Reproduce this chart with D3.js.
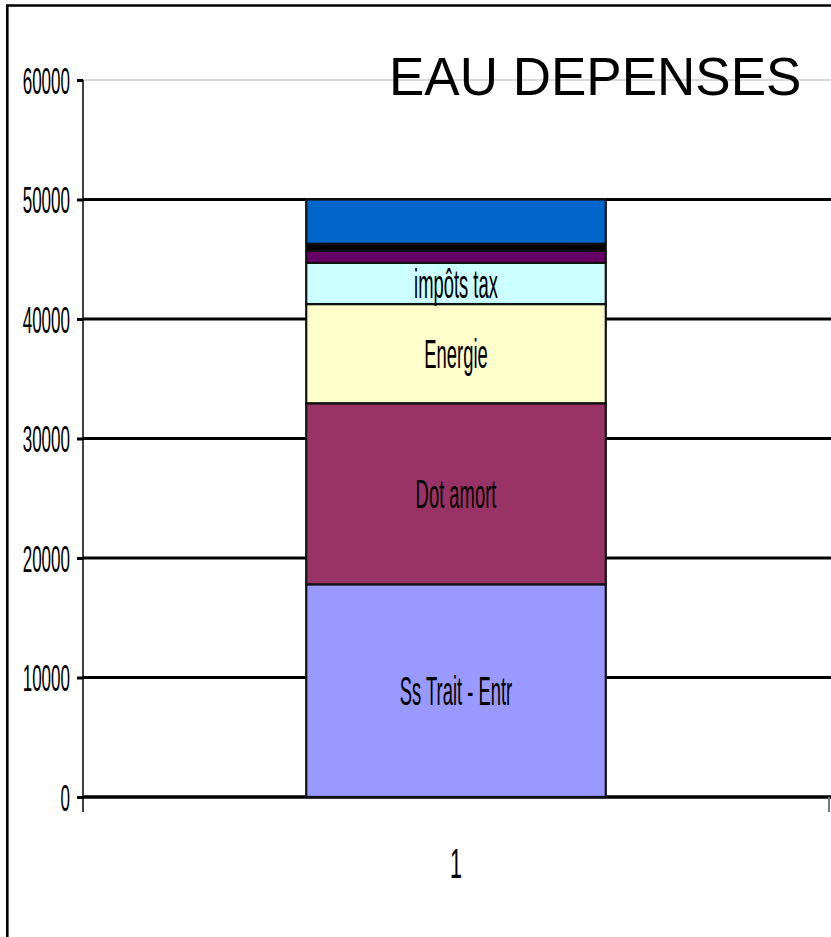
<!DOCTYPE html>
<html>
<head>
<meta charset="utf-8">
<script src="https://cdn.jsdelivr.net/npm/d3@7"></script>
<style>
  body { margin: 0; background: #fff; }
  text { font-family: "Liberation Sans", Arial, sans-serif; }
</style>
</head>
<body>
<div id="chart"></div>
<script>
// categories / series (bottom to top of the stack)
let categories = ["1"]
let seriesNames = ["Ss Trait - Entr", "Dot amort", "Energie", "impôts tax", "", "", ""]
let seriesValues = [17800, 15150, 8300, 3450, 1000, 600, 3700]
let seriesColors = ["#9999ff", "#993366", "#ffffcc", "#ccffff", "#660066", "#000000", "#0066cc"]
let yTicks = [0, 10000, 20000, 30000, 40000, 50000, 60000]
let title = "EAU DEPENSES"

let W = 831, H = 937
let plotLeft = 83, plotRight = 829, plotTop = 80, plotBottom = 797

let svg = d3.select("#chart")
  .append("svg")
  .attr("width", W)
  .attr("height", H)

svg.append("rect")
  .attr("width", W)
  .attr("height", H)
  .attr("fill", "#fff")

// outer frame (only top and left visible)
svg.append("path")
  .attr("d", `M7.3,${H} L7.3,5.5 L${W},5.5`)
  .attr("fill", "none")
  .attr("stroke", "#000")
  .attr("stroke-width", 2.6)

let y = d3.scaleLinear().domain([0, 60000]).range([plotBottom, plotTop])
let x = d3.scaleBand().domain(categories).range([plotLeft, plotRight]).padding(0.427)

// gridlines
svg.selectAll("line.grid")
  .data(yTicks)
  .enter()
  .append("line")
  .attr("class", "grid")
  .attr("x1", plotLeft)
  .attr("x2", plotRight + 2)
  .attr("y1", d => y(d))
  .attr("y2", d => y(d))
  .attr("stroke", d => d == 60000 ? "#b4b4b4" : "#000")
  .attr("stroke-width", d => d == 60000 ? 1 : (d == 0 ? 3.6 : 3))

// stacked data
let stackData = []
let acc = 0
seriesValues.forEach(function(v, i) {
  stackData.push({name: seriesNames[i], color: seriesColors[i], y0: acc, y1: acc + v})
  acc += v
})

let bar = svg.append("g")

bar.selectAll("rect")
  .data(stackData)
  .enter()
  .append("rect")
  .attr("x", x("1"))
  .attr("width", x.bandwidth())
  .attr("y", d => y(d.y1))
  .attr("height", d => y(d.y0) - y(d.y1))
  .attr("fill", d => d.color)
  .attr("stroke", "#111")
  .attr("stroke-width", 2.2)

// segment labels (condensed)
bar.selectAll("text")
  .data(stackData.filter(d => d.name != ""))
  .enter()
  .append("text")
  .attr("transform", d => `translate(${x("1") + x.bandwidth() / 2},${(y(d.y0) + y(d.y1)) / 2}) scale(0.46,1)`)
  .attr("dy", "0.36em")
  .attr("text-anchor", "middle")
  .attr("font-size", 40)
  .attr("fill", "#000")
  .text(d => d.name)

// y axis
let yAxis = svg.append("g")
  .attr("transform", `translate(${plotLeft},0)`)
  .call(d3.axisLeft(y).tickValues(yTicks).tickSize(6).tickFormat(d3.format("d")))

yAxis.select(".domain").remove()
yAxis.selectAll(".tick line")
  .attr("stroke", "#000")
  .attr("stroke-width", 3)
yAxis.selectAll(".tick text")
  .attr("x", 0)
  .attr("dy", "0.36em")
  .attr("transform", "translate(-13,0) scale(0.46,1)")
  .attr("text-anchor", "end")
  .attr("font-size", 37)
  .attr("font-family", "Liberation Sans, Arial, sans-serif")
  .attr("fill", "#000")

svg.append("line")
  .attr("x1", plotLeft).attr("x2", plotLeft)
  .attr("y1", plotTop).attr("y2", plotBottom + 15)
  .attr("stroke", "#000")
  .attr("stroke-width", 1.5)

// x axis: boundary ticks, label at band centre
svg.append("line")
  .attr("x1", plotRight).attr("x2", plotRight)
  .attr("y1", plotBottom).attr("y2", plotBottom + 15)
  .attr("stroke", "#777")
  .attr("stroke-width", 2)

let xAxis = svg.append("g")
  .attr("transform", `translate(0,${plotBottom})`)
  .call(d3.axisBottom(x).tickSize(0))
xAxis.select(".domain").remove()
xAxis.selectAll(".tick text")
  .attr("y", 0)
  .attr("dy", 0)
  .attr("transform", "translate(0,81) scale(0.5,1)")
  .attr("font-size", 43)
  .attr("font-family", "Liberation Sans, Arial, sans-serif")
  .attr("fill", "#000")

// title
svg.append("text")
  .attr("x", 389)
  .attr("y", 95)
  .attr("font-size", 53)
  .attr("fill", "#000")
  .text(title)
</script>
</body>
</html>
